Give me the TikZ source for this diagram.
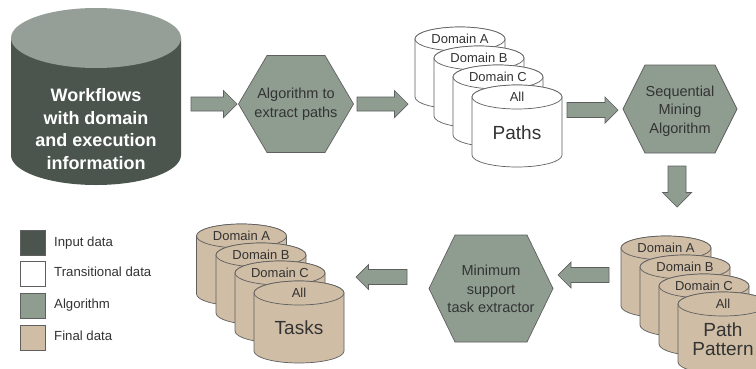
\documentclass[tikz,border=0pt]{standalone}
\usepackage{fontspec}
\setmainfont{Liberation Sans}
\definecolor{indark}{HTML}{4B554E}
\definecolor{intop}{HTML}{969E98}
\definecolor{algo}{HTML}{8F9D91}
\definecolor{tanfill}{HTML}{CFBDA5}
\definecolor{edgecol}{HTML}{5F5F5F}
\definecolor{txtcol}{HTML}{333333}
\newcommand\cylshape[6]{%
  \filldraw[cylline,fill=#6] (#1-#3,#2) -- (#1-#3,#2+#5)
    arc[start angle=180,end angle=0,x radius=#3,y radius=#4] -- (#1+#3,#2)
    arc[start angle=0,end angle=-180,x radius=#3,y radius=#4] -- cycle;
  \filldraw[cylline,fill=#6] (#1,#2) ellipse[x radius=#3,y radius=#4];}
% name, cx, cy, rotation, length, shaft half width, head half width
\newcommand\blockarr[7]{%
  \begin{scope}[shift={(#2,#3)},rotate=#4]
    \filldraw[arrline] (-#5/2,-#6) -- (#5/2-#7,-#6) -- (#5/2-#7,-#7) -- (#5/2,0)
      -- (#5/2-#7,#7) -- (#5/2-#7,#6) -- (-#5/2,#6) -- cycle;
    \node[inner sep=0pt] (#1) at (0,0) {};
  \end{scope}}
\tikzset{
  cylline/.style={draw=edgecol,line width=0.7pt},
  hexbox/.style={draw=edgecol,fill=algo,line width=0.7pt},
  arrline/.style={draw=edgecol,fill=algo,line width=0.7pt},
  lbl/.style={text=txtcol,font=\fontsize{13}{15}\selectfont,inner sep=0pt},
  leglbl/.style={text=txtcol,font=\fontsize{13.2}{15}\selectfont,inner sep=0pt,anchor=west},
  biglbl/.style={text=txtcol,font=\fontsize{19}{19}\selectfont,align=center,inner sep=0pt},
  algolbl/.style={text=txtcol,font=\fontsize{14.5}{18.5}\selectfont,align=center,inner sep=0pt},
  legbox/.style={draw=edgecol,line width=0.7pt,minimum size=25pt,inner sep=0pt},
}
\begin{document}
\begin{tikzpicture}[x=1pt,y=-1pt]
\clip (0,0) rectangle (756,368);
\fill[white] (0,0) rectangle (756,368);
% input cylinder
\fill[indark] (11,38) -- (11,155) arc[start angle=180,end angle=0,x radius=85,y radius=30] -- (181,38) -- cycle;
\fill[intop] (96,38) ellipse[x radius=85,y radius=30];
\node[text=white,font=\bfseries\fontsize{18}{22.5}\selectfont,align=center,inner sep=0pt] (input) at (96,129)
  {Workflows\\with domain\\and execution\\information};
% arrow 1
\blockarr{ar1}{214}{104}{0}{46}{7}{13.5}
% hexagon 1
\filldraw[hexbox] (238.5,104) -- (267,55.5) -- (325,55.5) -- (353.5,104) -- (325,152.5) -- (267,152.5) -- cycle;
\node[algolbl] (alg1) at (296,104) {Algorithm to\\extract paths};
% arrow 2
\blockarr{ar2}{382.5}{104}{0}{51}{7}{13.5}
% paths stack
\cylshape{460}{39}{45}{12}{58}{white}
\node[lbl] (pa) at (460,39) {Domain A};
\cylshape{479}{58}{45}{12}{58}{white}
\node[lbl] (pb) at (479,58) {Domain B};
\cylshape{498}{77}{45}{12}{58}{white}
\node[lbl] (pc) at (498,77) {Domain C};
\cylshape{517}{97}{45}{12}{58}{white}
\node[lbl] (pall) at (517,97) {All};
\node[biglbl] (paths) at (517,133) {Paths};
% arrow 3
\blockarr{ar3}{592.5}{110}{0}{51}{7.5}{13}
% hexagon 2
\filldraw[hexbox] (623,109) -- (645,65) -- (715,65) -- (737,109) -- (715,153) -- (645,153) -- cycle;
\node[algolbl] (alg2) at (680,111) {Sequential\\Mining\\Algorithm};
% down arrow
\blockarr{ar4}{677}{186.5}{-90}{41}{9}{14.5}
% path pattern stack
\cylshape{666}{248}{45}{12}{58}{tanfill}
\node[lbl] (ppa) at (666,248) {Domain A};
\cylshape{685}{267}{45}{12}{58}{tanfill}
\node[lbl] (ppb) at (685,267) {Domain B};
\cylshape{704}{286}{45}{12}{58}{tanfill}
\node[lbl] (ppc) at (704,286) {Domain C};
\cylshape{723}{304}{45}{12}{58}{tanfill}
\node[lbl] (ppall) at (723,304) {All};
\node[biglbl] (pp) at (723,339) {Path\\Pattern};
% arrow 4
\blockarr{ar5}{583.5}{275}{180}{51}{7.5}{13}
% hexagon 3
\filldraw[hexbox] (429,288.5) -- (455,235) -- (527,235) -- (553,288.5) -- (527,342) -- (455,342) -- cycle;
\node[algolbl] (alg3) at (491,289) {Minimum\\support\\task extractor};
% arrow 5
\blockarr{ar6}{381.5}{277}{180}{51}{7.5}{12.5}
% tasks stack
\cylshape{241.5}{236}{45}{12}{58}{tanfill}
\node[lbl] (ta) at (241.5,236) {Domain A};
\cylshape{261}{255}{45}{12}{58}{tanfill}
\node[lbl] (tb) at (261,255) {Domain B};
\cylshape{280}{273}{45}{12}{58}{tanfill}
\node[lbl] (tc) at (280,273) {Domain C};
\cylshape{299}{293}{45}{12}{58}{tanfill}
\node[lbl] (tall) at (299,293) {All};
\node[biglbl] (tasks) at (299,328) {Tasks};
% legend
\node[legbox,fill=indark] (l1) at (33,243) {};
\node[leglbl] (t1) at (54,243) {Input data};
\node[legbox,fill=white] (l2) at (33,274) {};
\node[leglbl] (t2) at (54,272) {Transitional data};
\node[legbox,fill=algo] (l3) at (33,305.5) {};
\node[leglbl] (t3) at (54,305) {Algorithm};
\node[legbox,fill=tanfill] (l4) at (33,337.5) {};
\node[leglbl] (t4) at (54,336) {Final data};
\end{tikzpicture}
\end{document}
